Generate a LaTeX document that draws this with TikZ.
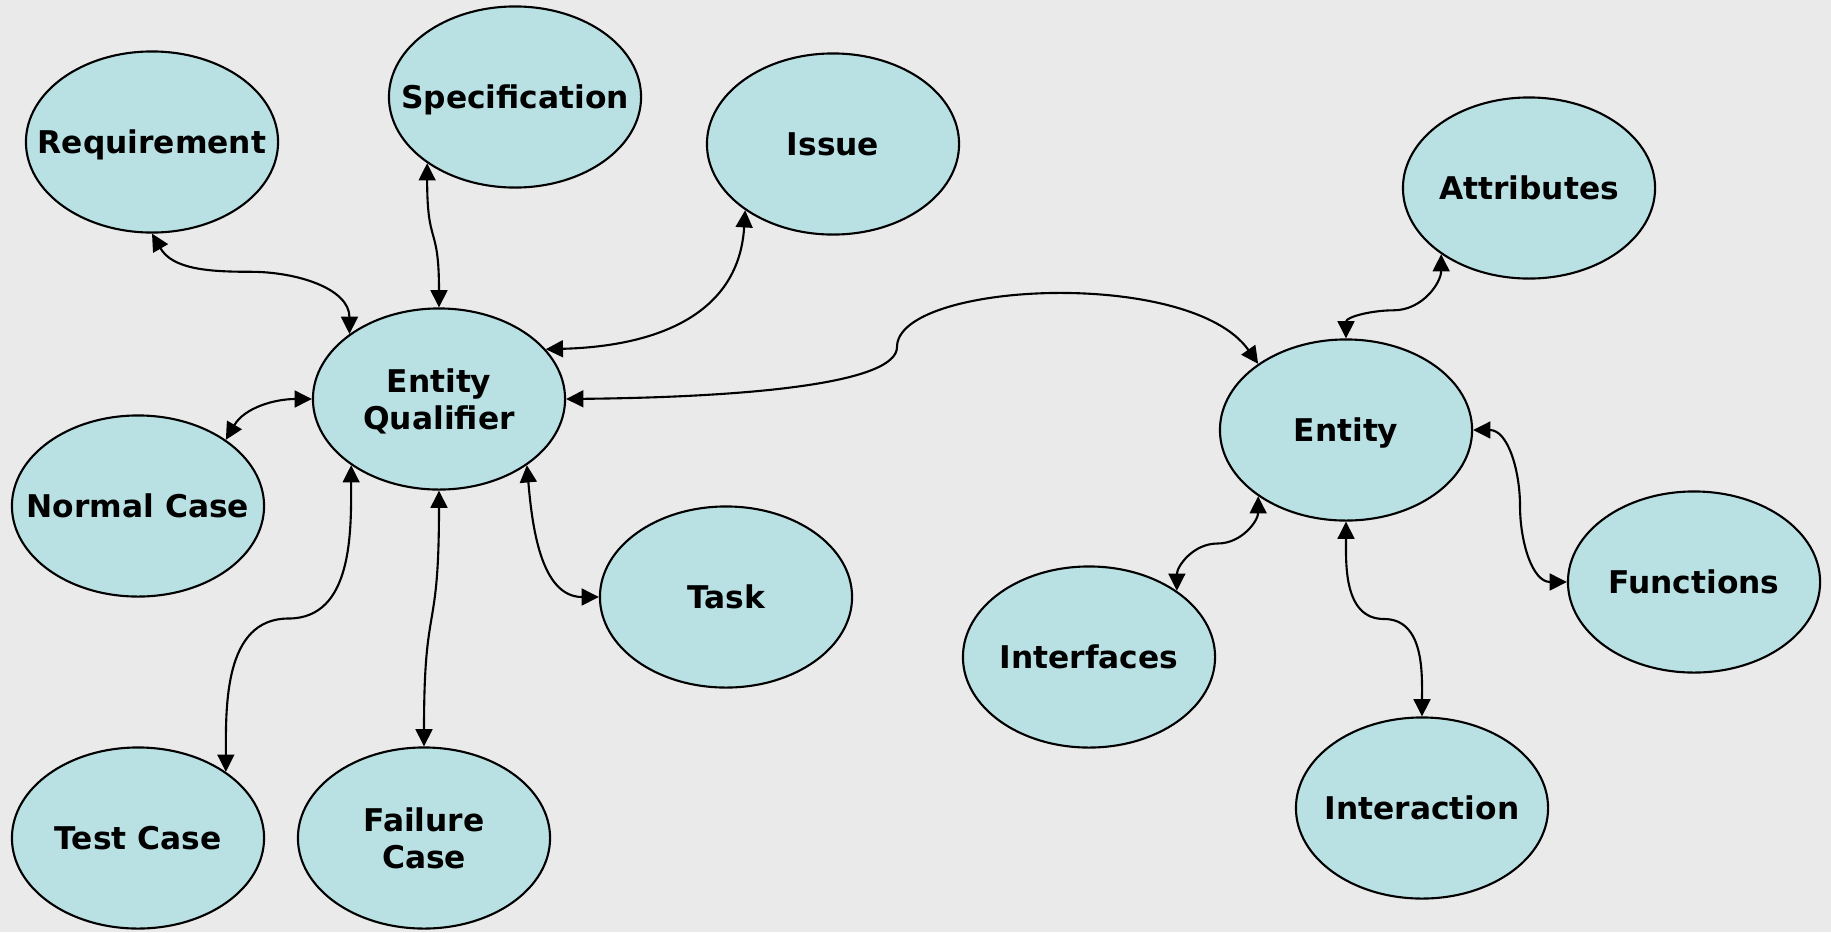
\documentclass[tikz,border=0pt]{standalone}
\usepackage{fontspec}
\setmainfont{DejaVu Sans}
\usetikzlibrary{arrows.meta, shapes.geometric, calc}
\definecolor{qBack}{HTML}{EAEAEA}
\definecolor{qCyan}{HTML}{B9E0E3}

\begin{document}
\begin{tikzpicture}[x=0.01cm, y=0.01cm,
    blob/.style={ellipse, draw, line width=0.6pt, fill=qCyan, minimum width=2.52cm, minimum height=1.81cm, inner sep=0pt},
    every label/.style={align=center, font=\bfseries\fontsize{8.9}{10.5}\selectfont, text height=6.6pt, text depth=0pt},
    twolines/.style={text height=17.1pt, text depth=0pt},
    link/.style={{Triangle[length=4.9pt,width=4.8pt]}-{Triangle[length=4.9pt,width=4.8pt]}, line width=0.6pt}]
    \fill[qBack] (0,0) rectangle (1831,932);
    \useasboundingbox (0,0) rectangle (1831,932);

    \node[blob, label=center:Requirement] (req) at (152,790) {};
    \node[blob, label=center:Specification] (spec) at (515,835) {};
    \node[blob, label=center:Issue] (issue) at (833,788) {};
    \node[blob, label={[twolines]center:Entity\\Qualifier}] (eq) at (439,533) {};
    \node[blob, label=center:Normal Case] (normal) at (138,426) {};
    \node[blob, label=center:Task] (task) at (726,335) {};
    \node[blob, label=center:Test Case] (test) at (138,94) {};
    \node[blob, label={[twolines]center:Failure\\Case}] (fail) at (424,94) {};

    \node[blob, label=center:Attributes] (attr) at (1529,744) {};
    \node[blob, label=center:Entity] (ent) at (1346,502) {};
    \node[blob, label=center:Interfaces] (iface) at (1089,275) {};
    \node[blob, label=center:Functions] (func) at (1694,350) {};
    \node[blob, label=center:Interaction] (inter) at (1422,124) {};

    \draw[link] (req.-90) to[out=-60,in=180] ($(req.-90)!.5!(eq.144)+(0,12)$) to[out=0,in=90] (eq.144);
    \draw[link] (spec.217) to[out=-90,in=90,looseness=1.5] (eq.90);
    \draw[link] (issue.217) .. controls +(-6,-102) and +(115,3) .. (eq.25);
    \draw[link] (normal.37) to[out=60,in=180] (eq.180);
    \draw[link] (test.37) to[out=90,in=180] ($(test.37)!.5!(eq.217)$) to[out=0,in=-90] (eq.217);
    \draw[link] (fail.90) to[out=90,in=-90,looseness=1.5] (eq.-90);
    \draw[link] (eq.-37) to[out=-85,in=180] (task.180);
    \draw[link] (eq.0) .. controls (760,535) and (897,550) .. (897,585)
      .. controls (897,650) and (1190,665) .. (ent.143);

    \draw[link] (attr.217) to[out=-90,in=0] ($(attr.217)!.5!(ent.90)+(0,-14)$) to[out=180,in=90] (ent.90);
    \draw[link] (iface.37) to[out=90,in=180] ($(iface.37)!.5!(ent.217)$) to[out=0,in=-90] (ent.217);
    \draw[link] (ent.-90) to[out=-90,in=180] ($(ent.-90)!.5!(inter.90)$) to[out=0,in=90] (inter.90);
    \draw[link] (ent.0) to[out=0,in=90] ($(ent.0)!.5!(func.180)$) to[out=-90,in=180] (func.180);
  \end{tikzpicture}
\end{document}
